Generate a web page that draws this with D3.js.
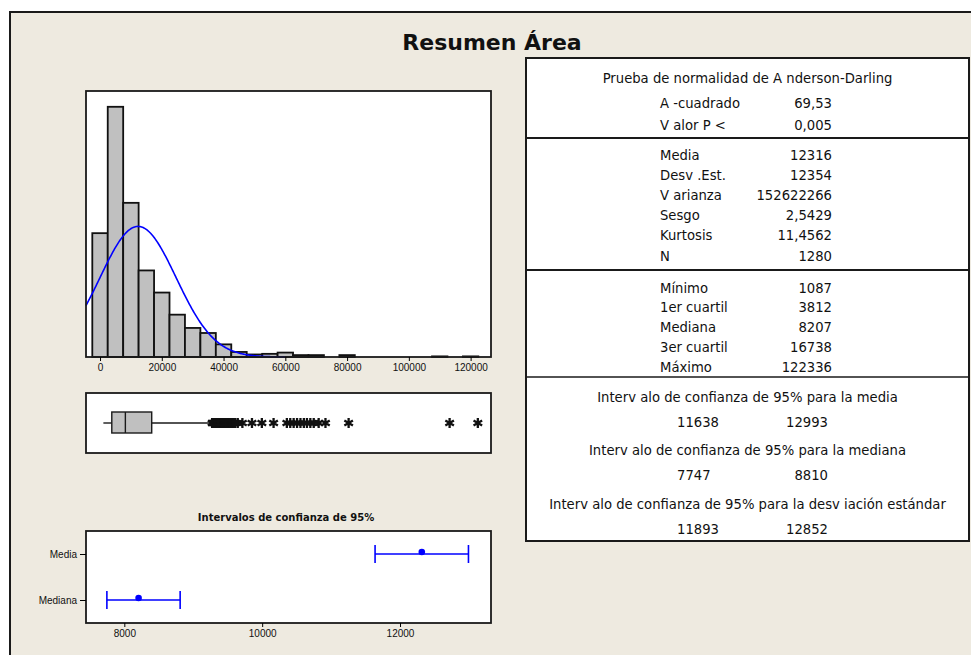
<!DOCTYPE html>
<html>
<head>
<meta charset="utf-8">
<script src="https://cdn.jsdelivr.net/npm/d3@7"></script>
<style>
  body { margin: 0; background: #fff; }
  svg { display: block; font-family: "DejaVu Sans", sans-serif; }
</style>
</head>
<body>
<svg id="chart" width="971" height="655"></svg>
<script>
// summary values
const mean = 12316, stdev = 12354, n = 1280;
const minVal = 1087, q1 = 3812, median = 8207, q3 = 16738, maxVal = 122336;
const upperWhisker = 36127;

// histogram: bin centres (width 5000) and counts
const binWidth = 5000;
const binCenters = [0, 5000, 10000, 15000, 20000, 25000, 30000, 35000, 40000, 45000,
  50000, 55000, 60000, 65000, 70000, 75000, 80000, 110000, 120000];
const binCounts = [196, 396, 244, 137, 102, 67, 46, 38, 20, 8,
  4, 5, 7, 3, 3, 0, 3, 1, 1];

// outliers shown on the boxplot
const outliers = [36300, 36500, 36800, 37000, 37200, 37600, 37900, 38100, 38400, 38700,
  38900, 39200, 39500, 39800, 40100, 40400, 40700, 41000, 41300, 41700, 42100, 42500,
  42900, 43300, 43800, 44600, 46100, 49200, 52400, 56200, 60500, 61600, 62700, 63800,
  64900, 66000, 67000, 68100, 69200, 70800, 73000, 80500, 113200, 122336];

const histTicks = [0, 20000, 40000, 60000, 80000, 100000, 120000];

// 95% confidence intervals
const ciNames = ["Media", "Mediana"];
const ciCenter = [12316, 8207];
const ciLow = [11638, 7747];
const ciHigh = [12993, 8810];
const ciTicks = [8000, 10000, 12000];

// table text
const adTitle = "Prueba de normalidad de A nderson-Darling";
const adLabels = ["A -cuadrado", "V alor P  <"];
const adValues = ["69,53", "0,005"];
const descLabels = ["Media", "Desv .Est.", "V arianza", "Sesgo", "Kurtosis", "N"];
const descValues = ["12316", "12354", "152622266", "2,5429", "11,4562", "1280"];
const quartLabels = ["Mínimo", "1er cuartil", "Mediana", "3er cuartil", "Máximo"];
const quartValues = ["1087", "3812", "8207", "16738", "122336"];
const ciTitles = ["Interv alo de confianza de 95%  para la media",
  "Interv alo de confianza de 95%  para la mediana",
  "Interv alo de confianza de 95%  para la desv iación estándar"];
const ciLowText = ["11638", "7747", "11893"];
const ciHighText = ["12993", "8810", "12852"];

const svg = d3.select("#chart");
const ink = "#1a1a1a";

// background panel
svg.append("rect").attr("x", 10).attr("y", 12).attr("width", 990).attr("height", 680)
  .attr("fill", "#eeeae0").attr("stroke", ink).attr("stroke-width", 2);

svg.append("text").attr("x", 492).attr("y", 50).attr("text-anchor", "middle")
  .attr("font-size", 22).attr("font-weight", "bold").attr("fill", "#111")
  .text("Resumen Área");

// ---------- histogram ----------
const px0 = 86, px1 = 491;
const x = d3.scaleLinear().domain([-4540, 126600]).range([px0, px1]);
const hy = d3.scaleLinear().domain([0, 421]).range([357, 91]);

svg.append("rect").attr("x", px0).attr("y", 91).attr("width", px1 - px0).attr("height", 266)
  .attr("fill", "#fff");

svg.append("g").selectAll("rect")
  .data(binCenters.map((c, i) => ({c, v: binCounts[i]})).filter(d => d.v > 0))
  .join("rect")
  .attr("x", d => x(d.c - binWidth / 2))
  .attr("width", d => x(d.c + binWidth / 2) - x(d.c - binWidth / 2))
  .attr("y", d => hy(d.v))
  .attr("height", d => hy(0) - hy(d.v))
  .attr("fill", "#c0c0c0").attr("stroke", "#111").attr("stroke-width", 1.8);

// fitted normal curve
const curveX = d3.range(-4540, 60001, 250);
const dens = v => n * binWidth * Math.exp(-0.5 * ((v - mean) / stdev) ** 2) / (stdev * Math.sqrt(2 * Math.PI));
svg.append("path")
  .datum(curveX)
  .attr("d", d3.line().x(d => x(d)).y(d => hy(dens(d))))
  .attr("fill", "none").attr("stroke", "#0000ff").attr("stroke-width", 1.6);

svg.append("rect").attr("x", px0).attr("y", 91).attr("width", px1 - px0).attr("height", 266)
  .attr("fill", "none").attr("stroke", ink).attr("stroke-width", 1.8);

const hAxis = svg.append("g").attr("transform", "translate(0,357)")
  .call(d3.axisBottom(x).tickValues(histTicks).tickFormat(d3.format("d")).tickSize(4).tickPadding(3));
hAxis.select(".domain").remove();
hAxis.selectAll("text").attr("font-size", 10).attr("fill", "#111");

// ---------- boxplot ----------
const by = 423;
svg.append("rect").attr("x", px0).attr("y", 393).attr("width", px1 - px0).attr("height", 60)
  .attr("fill", "#fff").attr("stroke", ink).attr("stroke-width", 1.8);
svg.append("line").attr("x1", x(minVal)).attr("x2", x(q1)).attr("y1", by).attr("y2", by)
  .attr("stroke", ink).attr("stroke-width", 1.4);
svg.append("line").attr("x1", x(q3)).attr("x2", x(upperWhisker)).attr("y1", by).attr("y2", by)
  .attr("stroke", ink).attr("stroke-width", 1.4);
svg.append("rect").attr("x", x(q1)).attr("y", 412).attr("width", x(q3) - x(q1)).attr("height", 21)
  .attr("fill", "#c0c0c0").attr("stroke", ink).attr("stroke-width", 1.4);
svg.append("line").attr("x1", x(median)).attr("x2", x(median)).attr("y1", 412).attr("y2", 433)
  .attr("stroke", ink).attr("stroke-width", 1.4);

const star = "M0,-5V5M-4.3,-2.5L4.3,2.5M-4.3,2.5L4.3,-2.5";
svg.append("g").selectAll("path").data(outliers).join("path")
  .attr("transform", d => `translate(${x(d)},${by})`)
  .attr("d", star).attr("stroke", "#111").attr("stroke-width", 2.3).attr("fill", "none");

// ---------- confidence intervals ----------
const cx = d3.scaleLinear().domain([7444, 13320]).range([px0, px1]);
const cy = d3.scalePoint().domain(ciNames).range([531, 623]).padding(0.5);

svg.append("text").attr("x", 286).attr("y", 521).attr("text-anchor", "middle")
  .attr("font-size", 10).attr("font-weight", "bold").attr("fill", "#111")
  .text("Intervalos de confianza de 95%");

svg.append("rect").attr("x", px0).attr("y", 531).attr("width", px1 - px0).attr("height", 92)
  .attr("fill", "#fff").attr("stroke", ink).attr("stroke-width", 1.8);

const ciG = svg.append("g").selectAll("g").data(ciNames).join("g");
ciG.append("line").attr("x1", (d, i) => cx(ciLow[i])).attr("x2", (d, i) => cx(ciHigh[i]))
  .attr("y1", d => cy(d)).attr("y2", d => cy(d))
  .attr("stroke", "#0000ff").attr("stroke-width", 1.6);
ciG.selectAll(".cap").data((d, i) => [ciLow[i], ciHigh[i]].map(v => ({v, row: d}))).join("line")
  .attr("x1", d => cx(d.v)).attr("x2", d => cx(d.v))
  .attr("y1", d => cy(d.row) - 9).attr("y2", d => cy(d.row) + 9)
  .attr("stroke", "#0000ff").attr("stroke-width", 1.6);
ciG.append("circle").attr("cx", (d, i) => cx(ciCenter[i])).attr("cy", d => cy(d) - 2)
  .attr("r", 3.3).attr("fill", "#0000ff");

const cAxis = svg.append("g").attr("transform", "translate(0,623)")
  .call(d3.axisBottom(cx).tickValues(ciTicks).tickFormat(d3.format("d")).tickSize(4).tickPadding(3));
cAxis.select(".domain").remove();
cAxis.selectAll("text").attr("font-size", 10).attr("fill", "#111");

const yAxis = svg.append("g").attr("transform", `translate(${px0},0)`)
  .call(d3.axisLeft(cy).tickSize(6).tickPadding(3));
yAxis.select(".domain").remove();
yAxis.selectAll("text").attr("font-size", 10).attr("fill", "#111");

// ---------- statistics table ----------
const tx0 = 526, tx1 = 969, tMid = (tx0 + tx1) / 2;
const labX = 660, valX = 832;
svg.append("rect").attr("x", tx0).attr("y", 58).attr("width", tx1 - tx0).attr("height", 483)
  .attr("fill", "#fff").attr("stroke", ink).attr("stroke-width", 2);
[138, 270].forEach(yy => svg.append("line").attr("x1", tx0).attr("x2", tx1)
  .attr("y1", yy).attr("y2", yy).attr("stroke", ink).attr("stroke-width", 2));
svg.append("line").attr("x1", tx0).attr("x2", tx1).attr("y1", 377).attr("y2", 377)
  .attr("stroke", ink).attr("stroke-width", 1.5);

const tbl = svg.append("g").attr("font-size", 13.2).attr("fill", "#111");
const put = (t, xx, yy, anchor) => tbl.append("text").attr("x", xx).attr("y", yy)
  .attr("text-anchor", anchor).attr("dominant-baseline", "central").text(t);

put(adTitle, tMid, 78, "middle");
adLabels.forEach((t, i) => { put(t, labX, 103.5 + i * 21.5, "start"); put(adValues[i], valX, 103.5 + i * 21.5, "end"); });
descLabels.forEach((t, i) => { put(t, labX, 155 + i * 20.2, "start"); put(descValues[i], valX, 155 + i * 20.2, "end"); });
quartLabels.forEach((t, i) => { put(t, labX, 288 + i * 19.8, "start"); put(quartValues[i], valX, 288 + i * 19.8, "end"); });
ciTitles.forEach((t, i) => {
  const y0 = 397 + i * 53.5;
  put(t, tMid, y0, "middle");
  put(ciLowText[i], 677, y0 + 25, "start");
  put(ciHighText[i], 828, y0 + 25, "end");
});
</script>
</body>
</html>
